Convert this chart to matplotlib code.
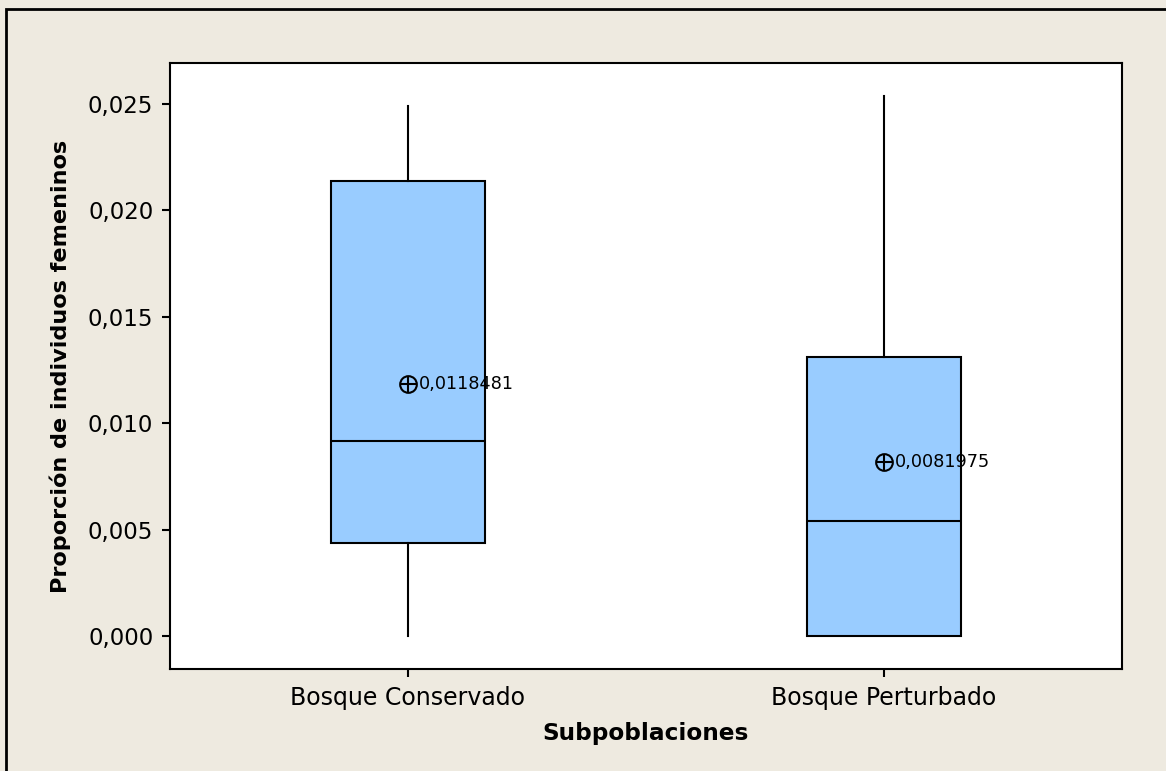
import matplotlib
matplotlib.use("Agg")
import matplotlib.pyplot as plt
from matplotlib.patches import Rectangle

# box statistics per subpopulation
groups = ["Bosque Conservado", "Bosque Perturbado"]
q1 = [0.00437, 0.0]
medians = [0.00917, 0.0054]
q3 = [0.02140, 0.01311]
whisker_low = [0.0, 0.0]
whisker_high = [0.0249, 0.02540]
means = [0.0118481, 0.0081975]

bg = "#EEEAE0"
box_color = "#99CCFF"

fig = plt.figure(figsize=(11.66, 7.71), dpi=100, facecolor=bg)
ax = fig.add_axes([170 / 1166, 1 - 669 / 771, 952 / 1166, 606 / 771])
ax.set_facecolor("white")

stats = []
for i, name in enumerate(groups):
    stats.append(dict(label=name, q1=q1[i], med=medians[i], q3=q3[i],
                      whislo=whisker_low[i], whishi=whisker_high[i], fliers=[]))

positions = list(range(1, len(groups) + 1))
ax.bxp(stats, positions=positions, widths=0.325, patch_artist=True,
       showcaps=False, showfliers=False,
       boxprops=dict(facecolor=box_color, edgecolor="black", linewidth=1.5),
       medianprops=dict(color="black", linewidth=1.5),
       whiskerprops=dict(color="black", linewidth=1.5))

# mean symbols with their values
for x, m in zip(positions, means):
    ax.plot(x, m, marker="o", markersize=12, markerfacecolor="none",
            markeredgecolor="black", markeredgewidth=1.5, zorder=5)
    ax.plot(x, m, marker="+", markersize=12, color="black",
            markeredgewidth=1.5, zorder=5)
    ax.annotate(f"{m:.7f}".replace(".", ","), xy=(x, m), xytext=(8, 0),
                textcoords="offset points", va="center", ha="left",
                fontsize=12.7)

ax.set_xlim(0.5, 2.5)
ax.set_ylim(-0.00155, 0.02693)
yt = [0.0, 0.005, 0.010, 0.015, 0.020, 0.025]
ax.set_yticks(yt)
ax.set_yticklabels([f"{v:.3f}".replace(".", ",") for v in yt])
ax.set_xticks(positions)
ax.set_xticklabels(groups)
ax.tick_params(axis="both", direction="out", length=6, width=1.5,
               colors="black", pad=6)
ax.tick_params(axis="y", labelsize=16.5)
ax.tick_params(axis="x", labelsize=17)
for s in ax.spines.values():
    s.set_linewidth(1.5)

ax.set_xlabel("Subpoblaciones", fontsize=16.7, fontweight="bold", labelpad=9)
ax.set_ylabel("Proporción de individuos femeninos", fontsize=16.1,
              fontweight="bold", labelpad=12)

# outer graph frame
fig.patches.append(Rectangle((6 / 1166, -0.1), 1.2, 1.1 - 9 / 771,
                             transform=fig.transFigure, fill=False,
                             edgecolor="black", linewidth=2))

fig.savefig("out.png", dpi=100, facecolor=bg)
